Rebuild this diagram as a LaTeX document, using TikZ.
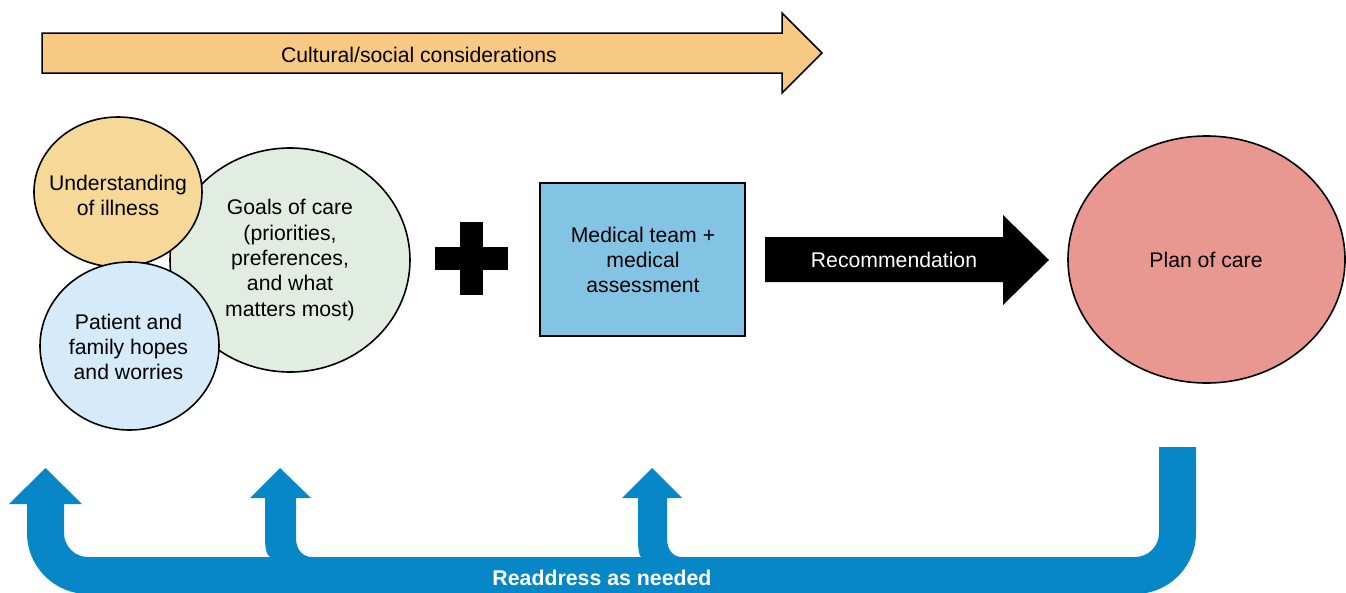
\documentclass[tikz,border=0pt]{standalone}
\usepackage{fontspec}
\setmainfont{Liberation Sans}
\usetikzlibrary{shapes.geometric}
\definecolor{topc}{HTML}{F7C983}
\definecolor{undc}{HTML}{F6D899}
\definecolor{goalc}{HTML}{E1EDE0}
\definecolor{patc}{HTML}{D5EBF9}
\definecolor{medc}{HTML}{83C3E3}
\definecolor{planc}{HTML}{E99891}
\definecolor{bluec}{HTML}{0787C8}
\tikzset{
  circ/.style={ellipse, draw=black, line width=1.6pt, inner sep=0pt},
  lbl/.style={align=center, inner sep=0pt, font=\fontsize{21.2}{25.3}\selectfont},
  wlbl/.style={lbl, text=white},
  medbox/.style={rectangle, draw=black, line width=1.8pt, fill=medc, inner sep=0pt},
}
\begin{document}
\begin{tikzpicture}[x=1pt,y=-1pt]
\useasboundingbox (0,0) rectangle (1346,592);
\clip (0,0) rectangle (1346,592);
% top arrow
\draw[fill=topc, line width=1.5pt, line join=miter] (42,33) -- (782,33) -- (782,13) -- (822,53) -- (782,93) -- (782,73) -- (42,73) -- cycle;
\node[lbl] (cult) at (419,55) {Cultural/social considerations};
% circles
\node[circ, fill=goalc, minimum width=240pt, minimum height=224pt] (goals) at (290,260) {};
\node[lbl] (goalst) at (290,260) {Goals of care\\(priorities,\\preferences,\\and what\\matters most)};
\node[circ, fill=undc, minimum width=168pt, minimum height=150pt] (und) at (118,192) {};
\node[lbl] (undt) at (118,195.5) {Understanding\\of illness};
\node[circ, fill=patc, minimum width=179pt, minimum height=168pt] (pat) at (129.5,346) {};
\node[lbl] (patt) at (128.5,347) {Patient and\\family hopes\\and worries};
% plus
\fill[black] (460,222) rectangle (483,295);
\fill[black] (435,247) rectangle (508,270);
% medical box
\node[medbox, minimum width=205pt, minimum height=153pt] (med) at (642.5,259.5) {};
\node[lbl] (medt) at (643,260) {Medical team +\\medical\\assessment};
% recommendation arrow
\fill[black] (765,237) -- (1003,237) -- (1003,215) -- (1049,260) -- (1003,305) -- (1003,282) -- (765,282) -- cycle;
\node[wlbl] (rec) at (894,260) {Recommendation};
% plan of care
\node[circ, fill=planc, minimum width=277pt, minimum height=247pt] (plan) at (1206.5,259.5) {};
\node[lbl] (plant) at (1206,260) {Plan of care};
% return arrow
\fill[bluec] (1159,447) -- (1159,533) arc[start angle=0,end angle=90,radius=24]
  -- (682,557) .. controls (673,557) and (667,550) .. (667,538) -- (667,498) -- (682,498) -- (652,468) -- (622,498) -- (638,498) -- (638,538) .. controls (638,550) and (639,555) .. (641,557)
  -- (312,557) .. controls (303,557) and (296,550) .. (296,538) -- (296,498) -- (311,498) -- (280,468) -- (250,498) -- (265,498) -- (265,538) .. controls (265,550) and (267,555) .. (270,557)
  -- (88,557) arc[start angle=90,end angle=180,radius=24]
  -- (64,504) -- (82,504) -- (45.5,468) -- (9,504) -- (27,504) -- (27,533)
  arc[start angle=180,end angle=90,radius=61]
  -- (1135,594) arc[start angle=90,end angle=0,radius=61] -- (1196,447) -- cycle;
\node[lbl, text=white, font=\bfseries\fontsize{21.3}{25}\selectfont, anchor=base] (read) at (602,585) {Readdress as needed};
\end{tikzpicture}
\end{document}
